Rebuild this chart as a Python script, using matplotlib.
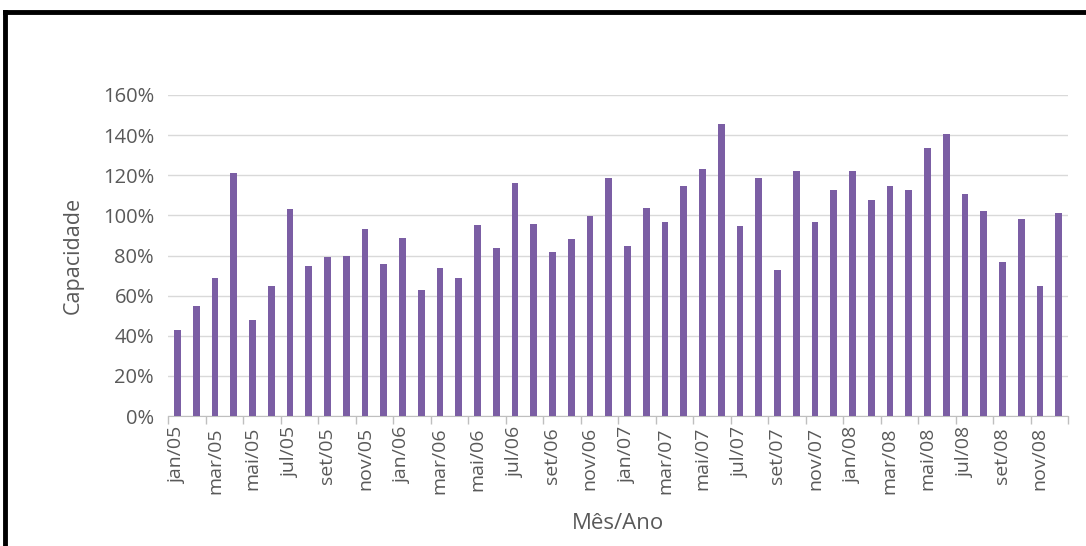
import matplotlib
matplotlib.use("Agg")
import matplotlib.pyplot as plt
from matplotlib.lines import Line2D
from matplotlib.ticker import FixedLocator, PercentFormatter

# ---- monthly capacity, jan/05 .. dez/08 (%) ----
meses = ["jan", "fev", "mar", "abr", "mai", "jun",
         "jul", "ago", "set", "out", "nov", "dez"]
anos = ["05", "06", "07", "08"]
capacidade = [
    43, 55, 69, 121, 48, 65, 103, 75, 79.5, 80, 93, 76,
    88.7, 63, 74, 69, 95, 83.5, 116, 95.7, 81.5, 88, 99.7, 118.7,
    84.7, 103.7, 96.5, 114.8, 123, 145.5, 94.5, 118.7, 73, 122, 96.5, 112.8,
    122, 107.5, 114.8, 112.8, 133.5, 140.7, 110.8, 102.2, 77, 98.3, 65, 101,
]
rotulos = [f"{m}/{a}" for a in anos for m in meses]

ROXO = "#7B5EA4"
CINZA = "#595959"

plt.rcParams["font.family"] = ["Open Sans", "DejaVu Sans"]

fig = plt.figure(figsize=(10.86, 5.46), dpi=100)
ax = fig.add_axes([168 / 1086, 1 - 416 / 546, 900 / 1086, 321 / 546])

x = list(range(len(capacidade)))
ax.bar(x, capacidade, width=0.36, color=ROXO, zorder=3)

ax.set_xlim(-0.5, len(capacidade) - 0.5)
ax.set_ylim(0, 160)
ax.set_yticks(range(0, 161, 20))
ax.yaxis.set_major_formatter(PercentFormatter(decimals=0))
ax.grid(axis="y", color="#D9D9D9", linewidth=1, zorder=0)

# labels on every other month, tick marks on the boundaries between pairs
ax.set_xticks(x[::2])
ax.set_xticklabels(rotulos[::2], rotation=90)
ax.xaxis.set_minor_locator(FixedLocator([i - 0.5 for i in range(0, len(capacidade) + 1, 2)]))
ax.tick_params(axis="x", which="major", length=0, pad=8, labelsize=14)
ax.tick_params(axis="x", which="minor", length=6, color="#BFBFBF", width=1)
ax.tick_params(axis="y", length=0, pad=10, labelsize=14.5)
ax.tick_params(labelcolor=CINZA)

for lado in ["top", "right", "left"]:
    ax.spines[lado].set_visible(False)
ax.spines["bottom"].set_color("#BFBFBF")

ax.set_ylabel("Capacidade", fontsize=15.5, color=CINZA, labelpad=14)
ax.set_xlabel("Mês/Ano", fontsize=16, color=CINZA, labelpad=14)

# frame around the chart area (top and left edges visible)
fig.add_artist(Line2D([5 / 1086, 1], [1 - 12 / 546, 1 - 12 / 546],
                      transform=fig.transFigure, color="black", linewidth=3.5))
fig.add_artist(Line2D([5 / 1086, 5 / 1086], [0, 1 - 12 / 546],
                      transform=fig.transFigure, color="black", linewidth=3.5))

fig.savefig("out.png", dpi=100)
